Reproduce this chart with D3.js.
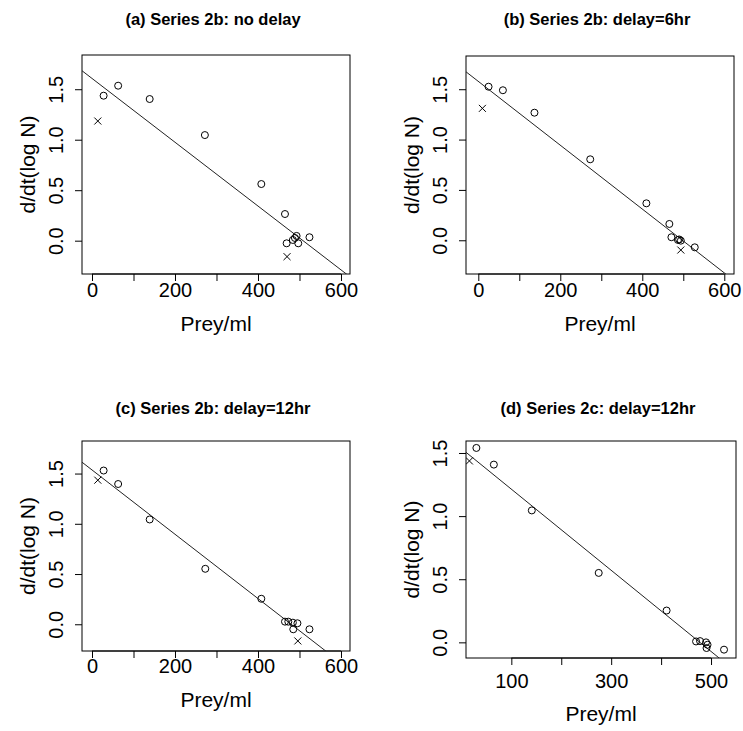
<!DOCTYPE html>
<html lang="en">
<head>
<meta charset="utf-8">
<title>Growth rate vs prey</title>
<script src="https://d3js.org/d3.v7.min.js"></script>
<style>
  body { margin: 0; background: #fff; }
  text { font-family: "Liberation Sans", Arial, sans-serif; fill: #000; }
  .title { font-weight: bold; font-size: 16.5px; }
  .tick text { font-size: 20px; }
  .lab { font-size: 21px; }
</style>
</head>
<body>
<div id="chart"></div>
<script>
// ---- data ----
// (a) Series 2b: no delay
var preyA  = [28, 63, 139, 272, 408, 465, 469, 484, 489, 493, 497, 524];
var rateA  = [1.436, 1.535, 1.403, 1.046, 0.561, 0.264, -0.026, 0.007, 0.027, 0.047, -0.026, 0.034];
var crossPreyA = [14, 470];
var crossRateA = [1.185, -0.158];
var fitA = [1.607, -0.00316];   // intercept, slope

// (b) Series 2b: delay=6hr
var preyB  = [25, 60, 137, 273, 410, 466, 471, 487, 490, 494, 528];
var rateB  = [1.525, 1.49, 1.267, 0.804, 0.367, 0.162, 0.03, 0.003, 0.008, -0.004, -0.07];
var crossPreyB = [10, 494];
var crossRateB = [1.31, -0.097];
var fitB = [1.578, -0.00317];

// (c) Series 2b: delay=12hr
var preyC  = [28, 63, 139, 273, 408, 465, 473, 484, 485, 495, 524];
var rateC  = [1.53, 1.396, 1.043, 0.552, 0.254, 0.026, 0.026, 0.016, -0.05, 0.01, -0.05];
var crossPreyC = [14, 496];
var crossRateC = [1.434, -0.166];
var fitC = [1.536, -0.0032];

// (d) Series 2c: delay=12hr
var preyD  = [30, 65, 141, 275, 411, 470, 478, 490, 493, 491, 526];
var rateD  = [1.54, 1.408, 1.045, 0.55, 0.252, 0.007, 0.01, 0.0, -0.019, -0.045, -0.058];
var crossPreyD = [16];
var crossRateD = [1.437];
var fitD = [1.535, -0.003214];

var yTicks = [0, 0.5, 1, 1.5];

var panels = [
  { title: "(a) Series 2b: no delay", box: [82, 55, 350, 274], xd: [-24.1, 621.7], yd: [-0.330, 1.839],
    xt: [0, 100, 200, 300, 400, 500, 600], xl: [0, 200, 400, 600],
    prey: preyA, rate: rateA, cp: crossPreyA, cr: crossRateA, fit: fitA, ty: 25, lx: 23, tl: 57 },
  { title: "(b) Series 2b: delay=6hr", box: [466, 56, 734, 274], xd: [-30, 623.7], yd: [-0.335, 1.830],
    xt: [0, 100, 200, 300, 400, 500, 600], xl: [0, 200, 400, 600],
    prey: preyB, rate: rateB, cp: crossPreyB, cr: crossRateB, fit: fitB, ty: 25, lx: 23, tl: 57 },
  { title: "(c) Series 2b: delay=12hr", box: [82, 441, 350, 651], xd: [-24.1, 621.7], yd: [-0.266, 1.824],
    xt: [0, 100, 200, 300, 400, 500, 600], xl: [0, 200, 400, 600],
    prey: preyC, rate: rateC, cp: crossPreyC, cr: crossRateC, fit: fitC, ty: 414, lx: 22, tl: 56 },
  { title: "(d) Series 2c: delay=12hr", box: [466, 441, 736, 658], xd: [9.2, 550], yd: [-0.124, 1.595],
    xt: [100, 200, 300, 400, 500], xl: [100, 300, 500],
    prey: preyD, rate: rateD, cp: crossPreyD, cr: crossRateD, fit: fitD, ty: 414, lx: 30, tl: 63 }
];

var svg = d3.select("#chart").append("svg")
    .attr("width", 743)
    .attr("height", 731);

panels.forEach(function(p, i) {
  var x0 = p.box[0], y0 = p.box[1], x1 = p.box[2], y1 = p.box[3];
  var x = d3.scaleLinear().domain(p.xd).range([x0, x1]);
  var y = d3.scaleLinear().domain(p.yd).range([y1, y0]);

  var g = svg.append("g");
  var clip = "clip" + i;
  g.append("clipPath").attr("id", clip)
    .append("rect").attr("x", x0).attr("y", y0).attr("width", x1 - x0).attr("height", y1 - y0);

  // title
  g.append("text").attr("class", "title")
    .attr("x", (x0 + x1) / 2 - 3).attr("y", p.ty)
    .attr("text-anchor", "middle")
    .text(p.title);

  // x axis
  var xa = g.append("g")
    .attr("transform", "translate(0," + y1 + ")")
    .call(d3.axisBottom(x).tickValues(p.xt).tickSize(7)
      .tickFormat(function(d) { return p.xl.indexOf(d) >= 0 ? d : ""; }));
  xa.select(".domain").remove();
  xa.selectAll(".tick line").attr("stroke", "#000");
  xa.selectAll(".tick text").attr("y", p.lx).attr("dy", 0);
  xa.append("line")
    .attr("x1", x(p.xt[0])).attr("x2", x(p.xt[p.xt.length - 1]))
    .attr("stroke", "#000");

  // y axis
  var ya = g.append("g")
    .attr("transform", "translate(" + x0 + ",0)")
    .call(d3.axisLeft(y).tickValues(yTicks).tickSize(7).tickFormat(d3.format(".1f")));
  ya.select(".domain").remove();
  ya.selectAll(".tick line").attr("stroke", "#000");
  ya.selectAll(".tick text")
    .attr("transform", "rotate(-90)")
    .attr("x", 0).attr("y", -19).attr("dy", 0)
    .style("text-anchor", "middle");

  // axis titles
  g.append("text").attr("class", "lab")
    .attr("x", (x0 + x1) / 2).attr("y", y1 + p.tl)
    .attr("text-anchor", "middle")
    .text("Prey/ml");
  g.append("text").attr("class", "lab")
    .attr("transform", "translate(" + (x0 - 47) + "," + ((y0 + y1) / 2) + ") rotate(-90)")
    .attr("text-anchor", "middle")
    .text("d/dt(log N)");

  // box
  g.append("rect")
    .attr("x", x0).attr("y", y0).attr("width", x1 - x0).attr("height", y1 - y0)
    .attr("fill", "none").attr("stroke", "#000");

  var inner = g.append("g").attr("clip-path", "url(#" + clip + ")");

  // fitted line
  inner.append("line")
    .attr("x1", x(p.xd[0])).attr("y1", y(p.fit[0] + p.fit[1] * p.xd[0]))
    .attr("x2", x(p.xd[1])).attr("y2", y(p.fit[0] + p.fit[1] * p.xd[1]))
    .attr("stroke", "#222").attr("stroke-width", 1);

  // circles
  inner.selectAll("circle.pt")
    .data(p.prey)
    .enter().append("circle")
      .attr("class", "pt")
      .attr("cx", function(d) { return x(d); })
      .attr("cy", function(d, j) { return y(p.rate[j]); })
      .attr("r", 3.5)
      .attr("fill", "none")
      .attr("stroke", "#000")
      .attr("stroke-width", 1);

  // crosses
  var cs = 3.5;
  var cross = inner.selectAll("g.cross")
    .data(p.cp)
    .enter().append("g")
      .attr("class", "cross")
      .attr("transform", function(d, j) { return "translate(" + x(d) + "," + y(p.cr[j]) + ")"; });
  cross.append("line").attr("x1", -cs).attr("y1", -cs).attr("x2", cs).attr("y2", cs).attr("stroke", "#000");
  cross.append("line").attr("x1", -cs).attr("y1", cs).attr("x2", cs).attr("y2", -cs).attr("stroke", "#000");
});
</script>
</body>
</html>
